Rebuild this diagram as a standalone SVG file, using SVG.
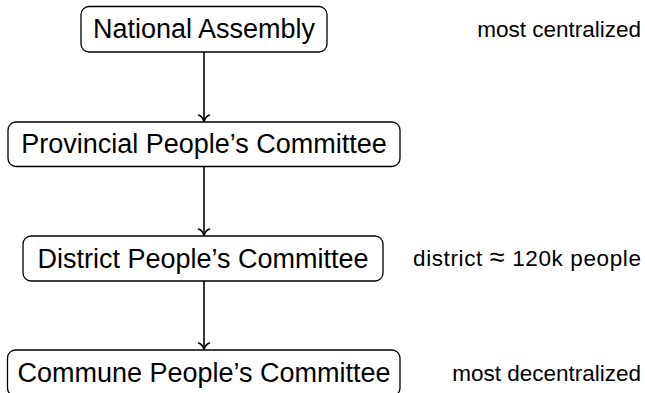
<svg xmlns="http://www.w3.org/2000/svg" width="645" height="393" viewBox="0 0 645 393">
<style>
.box{fill:#fff;stroke:#000;stroke-width:1.3}
.lbl{font-family:"Liberation Sans",Arial,sans-serif;font-size:27px;fill:#000;text-anchor:middle}
.note{font-family:"Liberation Sans",Arial,sans-serif;font-size:22.5px;fill:#000;text-anchor:end}
.edge{stroke:#000;stroke-width:1.6;fill:none}
</style>
<defs>
<marker id="to" viewBox="-8 -7 9 14" markerWidth="9" markerHeight="14" refX="0" refY="0" orient="auto" markerUnits="userSpaceOnUse">
<path d="M-6.5,-5.5 C-5.5,-2 -1.5,-0.5 0,0 C-1.5,0.5 -5.5,2 -6.5,5.5" fill="none" stroke="#000" stroke-width="1.5" stroke-linecap="round"/>
</marker>
</defs>
<g id="connectors">
<line class="edge" x1="204" y1="52" x2="204" y2="121.5" marker-end="url(#to)"/>
<line class="edge" x1="204" y1="166" x2="204" y2="235.5" marker-end="url(#to)"/>
<line class="edge" x1="204" y1="281" x2="204" y2="349.5" marker-end="url(#to)"/>
</g>
<g id="national">
<rect class="box" x="81" y="6.5" width="246" height="45.5" rx="8"/>
<text class="lbl" x="204" y="38">National Assembly</text>
</g>
<g id="provincial">
<rect class="box" x="8" y="122" width="392" height="44.5" rx="8"/>
<text class="lbl" x="204" y="153">Provincial People’s Committee</text>
</g>
<g id="district">
<rect class="box" x="23" y="236" width="360" height="45" rx="8"/>
<text class="lbl" x="203" y="267.5">District People’s Committee</text>
</g>
<g id="commune">
<rect class="box" x="7.5" y="350" width="392.5" height="46" rx="8"/>
<text class="lbl" x="204" y="381.5">Commune People’s Committee</text>
</g>
<g id="notes">
<text class="note" x="641" y="37">most centralized</text>
<text class="note" x="641" y="266" textLength="228" lengthAdjust="spacing">district <tspan font-size="27px">≈</tspan> 120k people</text>
<text class="note" x="641" y="381">most decentralized</text>
</g>
</svg>
